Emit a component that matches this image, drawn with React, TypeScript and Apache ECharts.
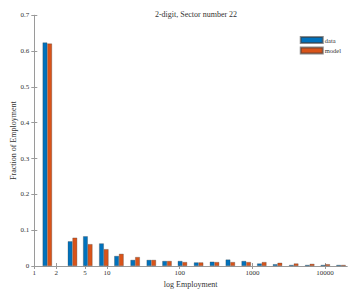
import React, { useEffect, useRef } from "react";
import * as echarts from "echarts";

const binCenters = [1.51, 3.35, 5.44, 9.04, 14.6, 24.4, 40.7, 66.9, 109, 182, 301, 497, 822, 1346, 2214, 3700, 6140, 10070, 16550];
const dataValues = [0.624, 0.069, 0.083, 0.063, 0.028, 0.017, 0.017, 0.014, 0.014, 0.010, 0.012, 0.018, 0.014, 0.007, 0.005, 0.003, 0.003, 0.003, 0.003];
const modelValues = [0.621, 0.079, 0.061, 0.047, 0.034, 0.025, 0.017, 0.014, 0.011, 0.010, 0.011, 0.011, 0.011, 0.011, 0.009, 0.007, 0.006, 0.005, 0.003];
const xTickValues = [1, 2, 5, 10, 100, 1000, 10000];
const xMaxValue = 20000;

const FONT = "Liberation Serif";
const AXIS = "#9a9a9a";
const TXT = "#333";

export default function App() {
  const ref = useRef<HTMLDivElement>(null);
  useEffect(() => {
    const chart = echarts.init(ref.current!, undefined, { renderer: "svg" });
    const lx = xTickValues.map((v) => Math.log10(v));
    const barStyle = (c: string) => ({ color: c, borderColor: "rgba(60,60,60,0.6)", borderWidth: 0.5 });
    const tickLen = 3;
    chart.setOption({
      animation: false,
      textStyle: { fontFamily: FONT },
      title: {
        text: "2-digit, Sector number 22",
        left: 191,
        textAlign: "center",
        top: 5,
        textStyle: { fontFamily: FONT, fontSize: 8, fontWeight: "normal", color: TXT },
      },
      legend: {
        right: 4,
        top: 31,
        orient: "vertical",
        itemWidth: 22,
        itemHeight: 6,
        itemGap: 2.5,
        icon: "rect",
        textStyle: { fontFamily: FONT, fontSize: 6.5, color: TXT, padding: [0, 0, 0, -3] },
        data: ["data", "model"],
      },
      grid: { left: 34.3, right: 3, top: 15.3, bottom: 23, containLabel: false, outerBoundsMode: "none" },
      xAxis: [
        {
          type: "value",
          min: 0,
          max: Math.log10(xMaxValue),
          name: "log Employment",
          nameLocation: "middle",
          nameGap: 14,
          nameMoveOverlap: false,
          nameTextStyle: { fontFamily: FONT, fontSize: 8, color: TXT },
          axisLine: { show: true, lineStyle: { color: AXIS, width: 1 } },
          axisTick: { show: true, inside: true, length: tickLen, lineStyle: { color: AXIS }, customValues: lx },
          axisLabel: {
            show: true,
            customValues: lx,
            margin: 3,
            fontFamily: FONT,
            fontSize: 7,
            color: TXT,
            formatter: (v: number) => String(Math.round(Math.pow(10, v))),
          },
          splitLine: { show: false },
        },
        {
          type: "value",
          position: "top",
          min: 0,
          max: Math.log10(xMaxValue),
          axisLine: { show: true, lineStyle: { color: AXIS, width: 1 } },
          axisTick: { show: true, inside: true, length: tickLen, lineStyle: { color: AXIS }, customValues: lx },
          axisLabel: { show: false },
          splitLine: { show: false },
        },
      ],
      yAxis: [
        {
          type: "value",
          min: 0,
          max: 0.7,
          interval: 0.1,
          name: "Fraction of Employment",
          nameLocation: "middle",
          nameGap: 17,
          nameMoveOverlap: false,
          nameTextStyle: { fontFamily: FONT, fontSize: 8, color: TXT },
          axisLine: { show: true, lineStyle: { color: AXIS, width: 1 } },
          axisTick: { show: true, inside: true, length: tickLen, lineStyle: { color: AXIS } },
          axisLabel: {
            margin: 5,
            fontFamily: FONT,
            fontSize: 7,
            color: TXT,
            formatter: (v: number) => String(Math.round(v * 10) / 10),
          },
          splitLine: { show: false },
        },
        {
          type: "value",
          position: "right",
          min: 0,
          max: 0.7,
          interval: 0.1,
          axisLine: { show: true, lineStyle: { color: AXIS, width: 1 } },
          axisTick: { show: true, inside: true, length: tickLen, lineStyle: { color: AXIS } },
          axisLabel: { show: false },
          splitLine: { show: false },
        },
      ],
      series: [
        {
          name: "data",
          type: "bar",
          xAxisIndex: 0,
          yAxisIndex: 0,
          barWidth: 4.7,
          barGap: "0%",
          itemStyle: barStyle("#0072BD"),
          data: binCenters.map((b, i) => [Math.log10(b), dataValues[i]]),
        },
        {
          name: "model",
          type: "bar",
          xAxisIndex: 0,
          yAxisIndex: 0,
          barWidth: 4.7,
          barGap: "0%",
          itemStyle: barStyle("#D95319"),
          data: binCenters.map((b, i) => [Math.log10(b), modelValues[i]]),
        },
      ],
    });
    return () => chart.dispose();
  }, []);
  return (
    <div
      ref={ref}
      style={{ position: "fixed", left: 0, top: 0, width: 350, height: 289, background: "#fff" }}
    />
  );
}
